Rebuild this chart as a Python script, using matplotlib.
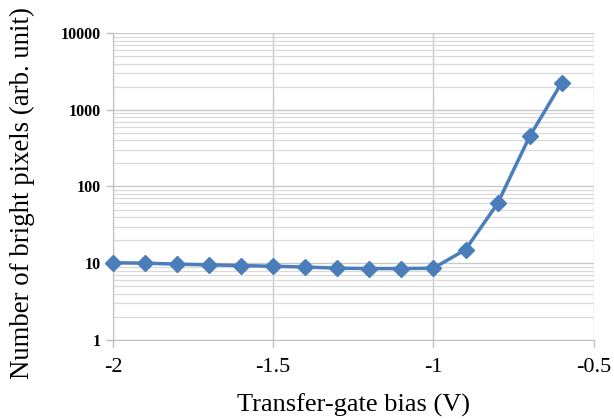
import matplotlib.pyplot as plt
from matplotlib.ticker import LogLocator, FixedLocator

bias = [-2.0, -1.9, -1.8, -1.7, -1.6, -1.5, -1.4, -1.3, -1.2, -1.1, -1.0, -0.9, -0.8, -0.7, -0.6]
pixels = [10.1, 10.0, 9.7, 9.5, 9.3, 9.1, 8.9, 8.6, 8.5, 8.5, 8.6, 15, 60, 450, 2250]

x_ticks = [-2, -1.5, -1, -0.5]
x_labels = ["-2", "-1.5", "-1", "-0.5"]
y_ticks = [1, 10, 100, 1000, 10000]
y_labels = ["1", "10", "100", "1000", "10000"]

serif = ['Liberation Serif', 'DejaVu Serif']
plt.rcParams['font.family'] = serif

fig = plt.figure(figsize=(6.14, 4.19), dpi=100)
ax = fig.add_axes([0.184, 0.189, 0.783, 0.732])

ax.set_yscale('log')
ax.set_xlim(-2, -0.5)
ax.set_ylim(1, 10000)

ax.yaxis.set_major_locator(FixedLocator(y_ticks))
ax.yaxis.set_minor_locator(LogLocator(base=10, subs=range(2, 10)))
ax.set_yticks(y_ticks)
ax.set_yticklabels(y_labels, fontsize=11.5, fontweight='bold', family=serif)
ax.set_xticks(x_ticks)
ax.set_xticklabels(x_labels, fontsize=16, family=serif)
ax.tick_params(axis='y', which='minor', length=0, labelleft=False)
ax.tick_params(axis='both', which='major', length=5, color='#bfbfbf', width=1)
ax.tick_params(axis='x', pad=8)
ax.tick_params(axis='y', pad=4)

ax.grid(True, which='major', color='#c8c8c8', linewidth=1)
ax.grid(True, which='minor', axis='y', color='#d9d9d9', linewidth=0.9)

for s in ['top', 'right']:
    ax.spines[s].set_visible(False)
for s in ['left', 'bottom']:
    ax.spines[s].set_color('#bfbfbf')

ax.plot(bias, pixels, color='#4a7ebb', linewidth=2.5, marker='D', markersize=8,
        markerfacecolor='#4a7ebb', markeredgecolor='#4a7ebb', clip_on=False, zorder=3)

ax.set_xlabel("Transfer-gate bias (V)", fontsize=19, labelpad=12, family=serif)
ax.set_ylabel("Number of bright pixels (arb. unit)", fontsize=19.3, family=serif)
ax.yaxis.set_label_coords(-0.162, 0.478)

fig.savefig("out.png", dpi=100)
